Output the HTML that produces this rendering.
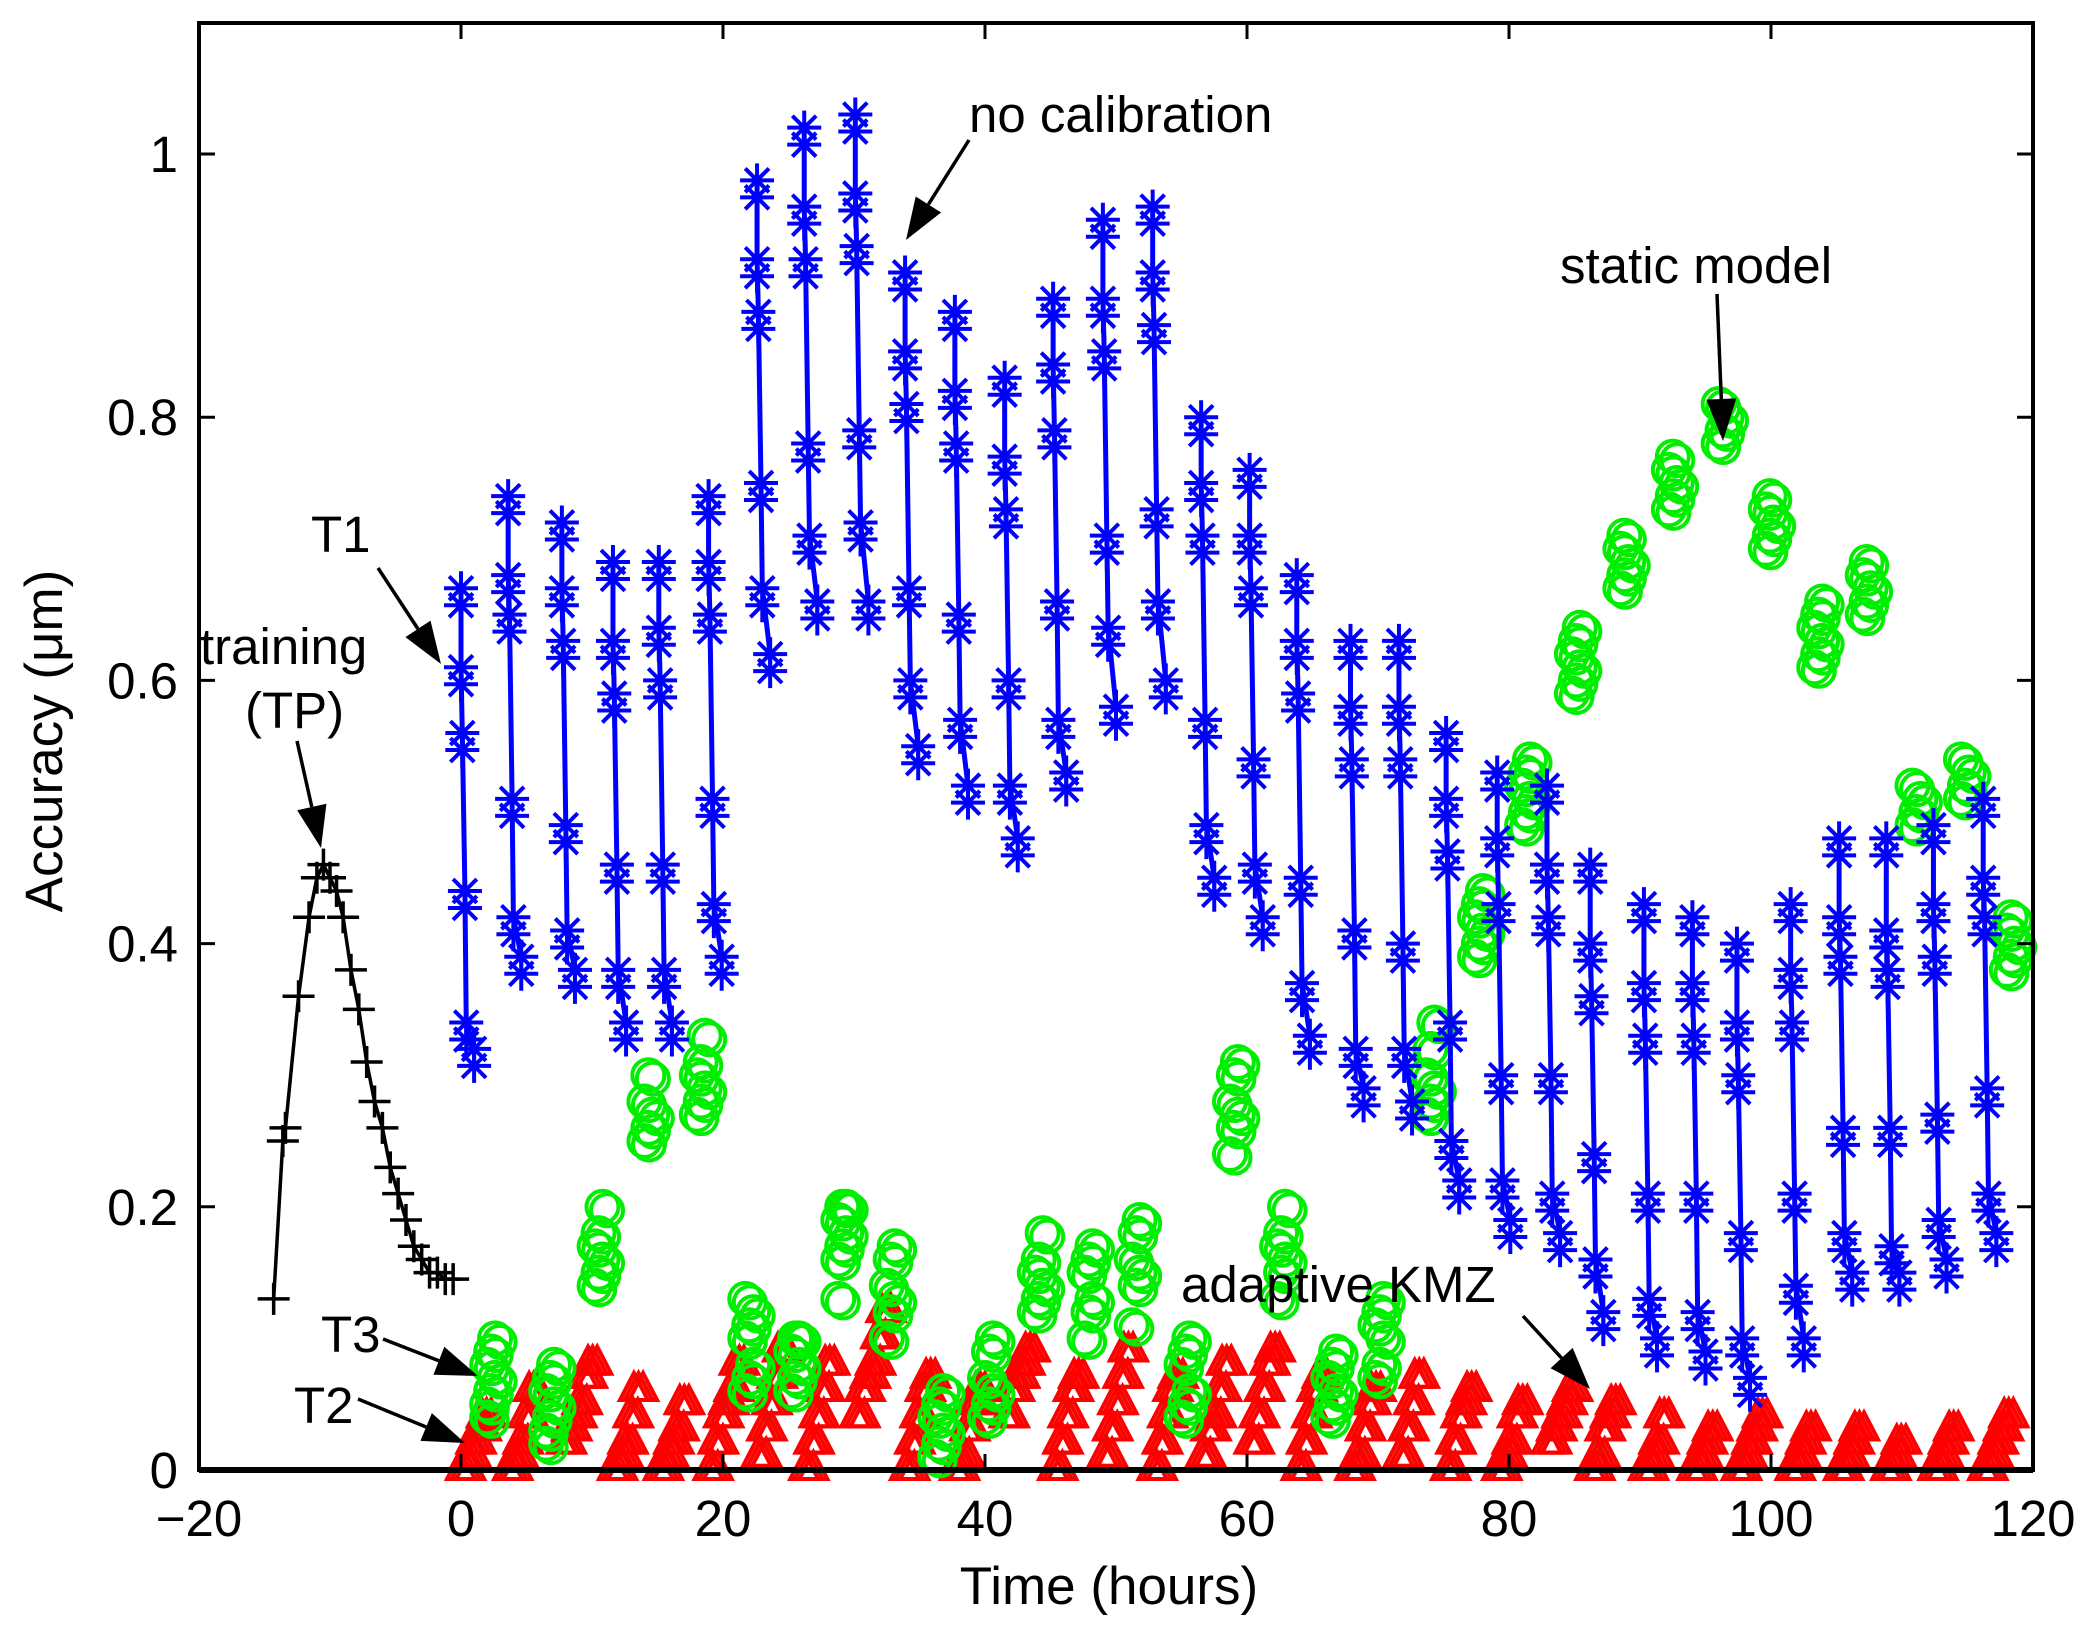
<!DOCTYPE html>
<html><head><meta charset="utf-8"><style>
html,body{margin:0;padding:0;background:#fff;}
svg{display:block;font-family:"Liberation Sans",sans-serif;}
</style></head><body>
<svg id="chart" width="2095" height="1631" viewBox="0 0 2095 1631" xmlns="http://www.w3.org/2000/svg">
<rect width="2095" height="1631" fill="#fff"/>
<g id="marks"></g>
<g id="axes"></g>
<g id="annot"></g>
</svg>
<script>
// ---- data ----
const xTicks=[-20,0,20,40,60,80,100,120];
const yTicks=[0,0.2,0.4,0.6,0.8,1];
const yTickLabels=["0","0.2","0.4","0.6","0.8","1"];
const trainX=[-14.3,-13.6,-13.4,-12.4,-11.6,-11.0,-10.5,-10.0,-9.5,-9.0,-8.4,-7.8,-7.2,-6.6,-6.0,-5.4,-4.8,-4.2,-3.6,-3.0,-2.4,-1.8,-1.2,-0.6];
const trainY=[0.13,0.25,0.26,0.36,0.42,0.45,0.46,0.45,0.44,0.42,0.38,0.35,0.31,0.28,0.26,0.23,0.21,0.19,0.17,0.16,0.15,0.15,0.145,0.145];
const t1Start=[0,3.6,7.7,11.6,15.1,18.9,22.6,26.2,30.1,33.9,37.7,41.5,45.2,49.0,52.8,56.5,60.2,63.8,67.9,71.6,75.2,79.1,82.9,86.2,90.3,94.0,97.4,101.5,105.2,108.8,112.4,116.2];
const t1Vals=[
[0.67,0.61,0.56,0.44,0.34,0.32],[0.74,0.68,0.65,0.51,0.42,0.39],[0.72,0.67,0.63,0.49,0.41,0.38],[0.69,0.63,0.59,0.46,0.38,0.34],
[0.69,0.64,0.60,0.46,0.38,0.34],[0.74,0.69,0.65,0.51,0.43,0.39],[0.98,0.92,0.88,0.75,0.67,0.62],[1.02,0.96,0.92,0.78,0.71,0.66],
[1.03,0.97,0.93,0.79,0.72,0.66],[0.91,0.85,0.81,0.67,0.60,0.55],[0.88,0.82,0.78,0.65,0.57,0.52],[0.83,0.77,0.73,0.60,0.52,0.48],
[0.89,0.84,0.79,0.66,0.57,0.53],[0.95,0.89,0.85,0.71,0.64,0.58],[0.96,0.91,0.87,0.73,0.66,0.60],[0.80,0.75,0.71,0.57,0.49,0.45],
[0.76,0.71,0.67,0.54,0.46,0.42],[0.68,0.63,0.59,0.45,0.37,0.33],[0.63,0.58,0.54,0.41,0.32,0.29],[0.63,0.58,0.54,0.40,0.32,0.28],
[0.56,0.51,0.47,0.34,0.25,0.22],[0.53,0.48,0.43,0.30,0.22,0.19],[0.52,0.46,0.42,0.30,0.21,0.18],[0.46,0.40,0.36,0.24,0.16,0.12],
[0.43,0.37,0.33,0.21,0.13,0.10],[0.42,0.37,0.33,0.21,0.12,0.09],[0.40,0.34,0.30,0.18,0.10,0.07],[0.43,0.38,0.34,0.21,0.14,0.10],
[0.48,0.42,0.39,0.26,0.18,0.15],[0.48,0.41,0.38,0.26,0.17,0.15],[0.49,0.43,0.39,0.27,0.19,0.16],[0.51,0.45,0.42,0.29,0.21,0.18]];
const t1Off=[0,0,0.1,0.3,0.4,1.0];
const t3Start=[2.0,6.5,10.2,14,18,21.7,25.2,28.8,32.5,36.2,40,43.8,47.6,51.2,55,58.7,62.3,66.2,69.8,73.7,77.4,81,84.8,88.5,92.2,96,99.6,103.3,107,110.8,114.5,118];
const t3Vals=[
[0.05,0.06,0.07,0.08,0.09,0.10,0.04],[0.03,0.04,0.05,0.06,0.07,0.08,0.02],[0.14,0.15,0.16,0.17,0.18,0.20],[0.25,0.26,0.27,0.28,0.30],
[0.27,0.28,0.29,0.30,0.31,0.33],[0.06,0.07,0.08,0.10,0.11,0.12,0.13],[0.06,0.07,0.08,0.09,0.10,0.10],[0.16,0.17,0.18,0.19,0.20,0.20,0.13],
[0.10,0.12,0.13,0.14,0.16,0.17],[0.01,0.02,0.03,0.04,0.05,0.06],[0.04,0.05,0.06,0.07,0.09,0.10],[0.12,0.13,0.14,0.15,0.16,0.18],
[0.10,0.12,0.13,0.15,0.16,0.17],[0.11,0.14,0.15,0.16,0.18,0.19],[0.04,0.05,0.06,0.08,0.09,0.10],[0.24,0.26,0.27,0.28,0.30,0.31],
[0.13,0.15,0.16,0.17,0.18,0.20],[0.04,0.05,0.06,0.07,0.08,0.09],[0.07,0.08,0.10,0.11,0.12,0.13],[0.27,0.28,0.29,0.30,0.32,0.34],
[0.39,0.40,0.41,0.42,0.43,0.44],[0.49,0.50,0.51,0.52,0.53,0.54],[0.59,0.60,0.61,0.62,0.63,0.64],[0.67,0.68,0.69,0.70,0.71],
[0.73,0.74,0.75,0.76,0.77],[0.78,0.79,0.80,0.81],[0.70,0.71,0.72,0.73,0.74],[0.61,0.62,0.63,0.64,0.65,0.66],
[0.65,0.66,0.67,0.68,0.69],[0.49,0.50,0.51,0.52],[0.51,0.52,0.53,0.54],[0.38,0.39,0.40,0.41,0.42]];
const t2Vals=[
[0,0.01,0.02,0.03,0.04],[0,0.01,0.02,0.04,0.06],[0.02,0.03,0.04,0.05,0.07,0.08],[0,0.01,0.02,0.04,0.06],
[0,0.01,0.02,0.03,0.05],[0,0.02,0.04,0.05,0.06,0.08],[0.01,0.03,0.05,0.07,0.09],[0,0.02,0.04,0.06,0.08],
[0.04,0.06,0.07,0.08,0.10,0.12],[0,0.02,0.04,0.06,0.07],[0,0.01,0.03,0.05,0.06],[0.04,0.06,0.07,0.08,0.09],
[0,0.02,0.04,0.06,0.07],[0.01,0.03,0.05,0.07,0.09],[0,0.02,0.04,0.06,0.07],[0.01,0.03,0.04,0.06,0.08],
[0.02,0.04,0.06,0.08,0.09],[0,0.02,0.04,0.06,0.07],[0,0.01,0.03,0.05,0.06],[0.01,0.03,0.05,0.07],
[0,0.02,0.04,0.05,0.06],[0,0.01,0.02,0.04,0.05],[0.02,0.03,0.04,0.05,0.06],[0,0.01,0.03,0.04,0.05],
[0,0.01,0.02,0.04],[0,0.01,0.02,0.03],[0,0.01,0.02,0.03,0.04],[0,0.01,0.02,0.03],
[0,0.01,0.02,0.03],[0,0.01,0.02],[0,0.01,0.02,0.03],[0,0.01,0.02,0.03,0.04]];

// ---- scales ----
const L=199,R=2033,T=23,B=1470,XMIN=-20,XMAX=120;
const sx=v=>L+(v-XMIN)/(XMAX-XMIN)*(R-L);
const sy=v=>B-v*(B-154);
const NS="http://www.w3.org/2000/svg";
function mk(tag,attrs,parent){const e=document.createElementNS(NS,tag);for(const k in attrs)e.setAttribute(k,attrs[k]);parent.appendChild(e);return e;}
const marks=document.getElementById('marks'),axes=document.getElementById('axes'),annot=document.getElementById('annot');

// red triangles T2
const gT2=mk('g',{fill:'none',stroke:'#ff0000','stroke-width':4,'stroke-linejoin':'miter'},marks);


t2Vals.forEach((vals,ci)=>{vals.forEach((v,i)=>{
  [0,0.35,0.7].forEach(d=>{
    const cx=sx(t1Start[ci]+i*0.4+d),cy=sy(v);
    const p=mk('polygon',{points:`${cx},${cy-18} ${cx-14},${cy+9} ${cx+14},${cy+9}`},gT2);
    
    
  });
});});

// green circles T3
const gT3=mk('g',{fill:'none',stroke:'#00ee00','stroke-width':4},marks);


t3Start.forEach((s,ci)=>{t3Vals[ci].forEach((v,i)=>{
  [0,0.35].forEach(d=>{
    const c=mk('circle',{cx:sx(s+(i%3)*0.3+d),cy:sy(v)+d*10,r:16},gT3);
    
    
  });
});});

// blue T1
const gT1=mk('g',{fill:'none',stroke:'#0000ff','stroke-width':4},marks);


function star(g,x,y,s){mk('path',{d:`M${x-s},${y}H${x+s}M${x},${y-s}V${y+s}M${x-s*0.7},${y-s*0.7}L${x+s*0.7},${y+s*0.7}M${x-s*0.7},${y+s*0.7}L${x+s*0.7},${y-s*0.7}`},g);}
t1Start.forEach((s,ci)=>{
  const vals=t1Vals[ci];
  const pts=vals.map((v,i)=>[sx(s+t1Off[i]),sy(v)]);
  const pl=mk('polyline',{points:pts.map(p=>p.join(',')).join(' '),'stroke-width':5},gT1);
  
  
  pts.forEach(p=>{star(gT1,p[0],p[1],17);star(gT1,p[0],p[1]+17,17);});
});

// black training
const gTr=mk('g',{fill:'none',stroke:'#000','stroke-width':3.5},marks);


mk('polyline',{points:trainX.map((x,i)=>sx(x)+','+sy(trainY[i])).join(' ')},gTr);
trainX.forEach((x,i)=>{const X=sx(x),Y=sy(trainY[i]);mk('path',{d:`M${X-16},${Y}H${X+16}M${X},${Y-16}V${Y+16}`},gTr);});

// axes
mk('rect',{x:L,y:T,width:R-L,height:B-T,fill:'none',stroke:'#000','stroke-width':4},axes);
mk('line',{x1:L,y1:B,x2:R,y2:B,stroke:'#000','stroke-width':6},axes);
xTicks.forEach(v=>{const X=sx(v);
  mk('path',{d:`M${X},${B}V${B-16}M${X},${T}V${T+16}`,stroke:'#000','stroke-width':3},axes);
  const t=mk('text',{x:X,y:1536,'text-anchor':'middle','font-size':51},axes);t.textContent=(v<0?'\u2212':'')+Math.abs(v);
  
  
});
yTicks.forEach((v,i)=>{const Y=sy(v);
  mk('path',{d:`M${L},${Y}H${L+16}M${R},${Y}H${R-16}`,stroke:'#000','stroke-width':3},axes);
  const t=mk('text',{x:178,y:Y+18,'text-anchor':'end','font-size':51},axes);t.textContent=yTickLabels[i];
  
  
});
const xl=mk('text',{x:1109,y:1604,'text-anchor':'middle','font-size':53},axes);xl.textContent='Time (hours)';


const yl=mk('text',{x:0,y:0,'text-anchor':'middle','font-size':53,transform:'translate(62,741) rotate(-90)'},axes);yl.textContent='Accuracy (\u03bcm)';



// annotations
const notes=[
 ['no calibration',969,132,'start',[969,140,906,240],'annotation-no-calibration'],
 ['static model',1560,283,'start',[1717,294,1723,441],'annotation-static-model'],
 ['T1',311,552,'start',[378,568,441,664],'annotation-t1'],
 ['training',200,664,'start',[297,741,321,848],'annotation-training'],
 ['(TP)',245,728,'start',null,'annotation-tp'],
 ['adaptive KMZ',1181,1302,'start',[1523,1316,1590,1389],'annotation-adaptive-kmz'],
 ['T3',321,1352,'start',[383,1339,478,1376],'annotation-t3'],
 ['T2',294,1423,'start',[358,1399,465,1443],'annotation-t2']];
notes.forEach(n=>{
  const t=mk('text',{x:n[1],y:n[2],'text-anchor':n[3],'font-size':51},annot);t.textContent=n[0];
  
  
  if(n[4]){const [x1,y1,x2,y2]=n[4];const dx=x2-x1,dy=y2-y1,len=Math.hypot(dx,dy),ux=dx/len,uy=dy/len;
    const hl=42,hw=15,bx=x2-ux*hl,by=y2-uy*hl;
    mk('line',{x1,y1,x2:bx,y2:by,stroke:'#000','stroke-width':3.5},annot);
    const a=mk('polygon',{points:`${x2},${y2} ${bx-uy*hw},${by+ux*hw} ${bx+uy*hw},${by-ux*hw}`,fill:'#000'},annot);
    
    
  }
});
</script>
</body></html>
